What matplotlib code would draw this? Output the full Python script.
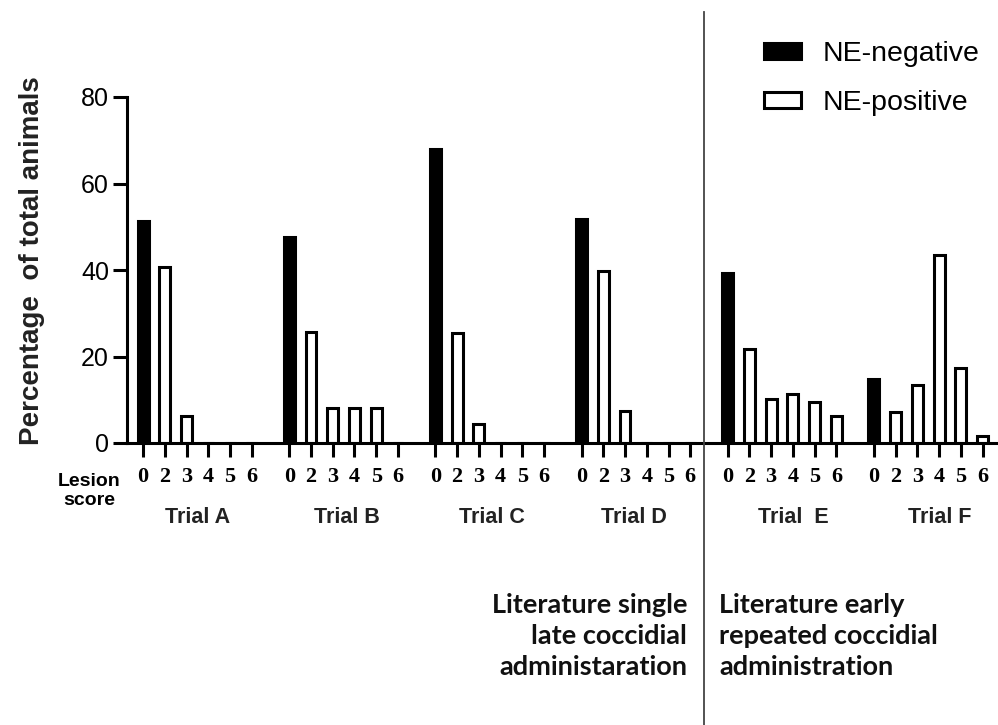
import matplotlib
matplotlib.use("Agg")
import matplotlib.pyplot as plt
from matplotlib.patches import Patch
from matplotlib.lines import Line2D

# lesion scores shown under every trial
scores = ["0", "2", "3", "4", "5", "6"]
trials = ["Trial A", "Trial B", "Trial C", "Trial D", "Trial  E", "Trial F"]

# % of total animals per lesion score (score 0 = NE-negative, rest NE-positive)
trial_a = [51.4, 40.8, 6.3, 0, 0, 0]
trial_b = [47.7, 25.7, 8.2, 8.2, 8.2, 0]
trial_c = [68.0, 25.5, 4.4, 0, 0, 0]
trial_d = [51.7, 39.8, 7.5, 0, 0, 0]
trial_e = [39.4, 21.7, 10.2, 11.3, 9.4, 6.3]
trial_f = [14.7, 7.1, 13.4, 43.5, 17.3, 1.6]
all_trials = [trial_a, trial_b, trial_c, trial_d, trial_e, trial_f]

group_step = 6.72
label_shift = [0, 0.15, 0.1, -0.1, 0.5, 0.55]

plt.rcParams['font.family'] = ['Liberation Sans', 'DejaVu Sans']

fig = plt.figure(figsize=(9.98, 7.25), dpi=100)
ax = fig.add_axes([127/998, 1 - 443/725, 1 - 127/998, 346/725])

tick_pos = []
tick_lab = []
for g, vals in enumerate(all_trials):
    xs = [g * group_step + i for i in range(len(vals))]
    ax.bar(xs[0], vals[0], width=0.5, color="black", edgecolor="black", linewidth=2.2)
    ax.bar(xs[1:], vals[1:], width=0.5, color="white", edgecolor="black", linewidth=2.2)
    tick_pos += xs
    tick_lab += scores
    cx = (xs[0] + xs[-1]) / 2 + label_shift[g]
    ax.text(cx, -0.215, trials[g], transform=ax.get_xaxis_transform(),
            ha="center", va="center", fontsize=15.5, fontweight="bold", color="#222222")

ax.set_xlim(-0.74, 39.31)
ax.set_ylim(0, 80)
ax.set_yticks([0, 20, 40, 60, 80])
ax.set_xticks(tick_pos)
ax.set_xticklabels(tick_lab, family="Liberation Serif", fontsize=16, fontweight="bold")

for side in ["top", "right"]:
    ax.spines[side].set_visible(False)
ax.spines["left"].set_linewidth(2.2)
ax.spines["bottom"].set_linewidth(2.2)
ax.spines["left"].set_bounds(0, 80)
ax.tick_params(axis="y", length=10, width=2.2, pad=3, labelsize=18)
ax.tick_params(axis="x", length=10, width=2.2, pad=7)

fig.text(32/998, 1 - 261/725, "Percentage  of total animals", rotation=90,
         ha="center", va="center", fontsize=20, fontweight="bold", color="#222222")
fig.text(89/998, 1 - 491/725, "Lesion\nscore", ha="center", va="center",
         fontsize=14, fontweight="bold", linespacing=1.2)

handles = [Patch(facecolor="black", edgecolor="black", linewidth=2.2),
           Patch(facecolor="white", edgecolor="black", linewidth=2.2)]
fig.legend(handles, ["NE-negative", "NE-positive"], loc="upper left",
           bbox_to_anchor=(764/998, 1 - 41/725), frameon=False, fontsize=20.5,
           handlelength=1.3, handleheight=0.5, handletextpad=0.75,
           labelspacing=0.8, borderpad=0, borderaxespad=0)

# divider between the two literature groups
fig.add_artist(Line2D([704/998, 704/998], [1 - 12/725, 0], color="#444444", linewidth=1.3))

fig.text(687/998, 1 - 636/725, "Literature single\nlate coccidial\nadministaration",
         ha="right", va="center", fontsize=19.5, fontweight="bold", family="Lato",
         linespacing=1.35, color="#111111")
fig.text(719/998, 1 - 636/725, "Literature early\nrepeated coccidial\nadministration",
         ha="left", va="center", fontsize=19.5, fontweight="bold", family="Lato",
         linespacing=1.35, color="#111111")

fig.savefig("out.png", dpi=100)
